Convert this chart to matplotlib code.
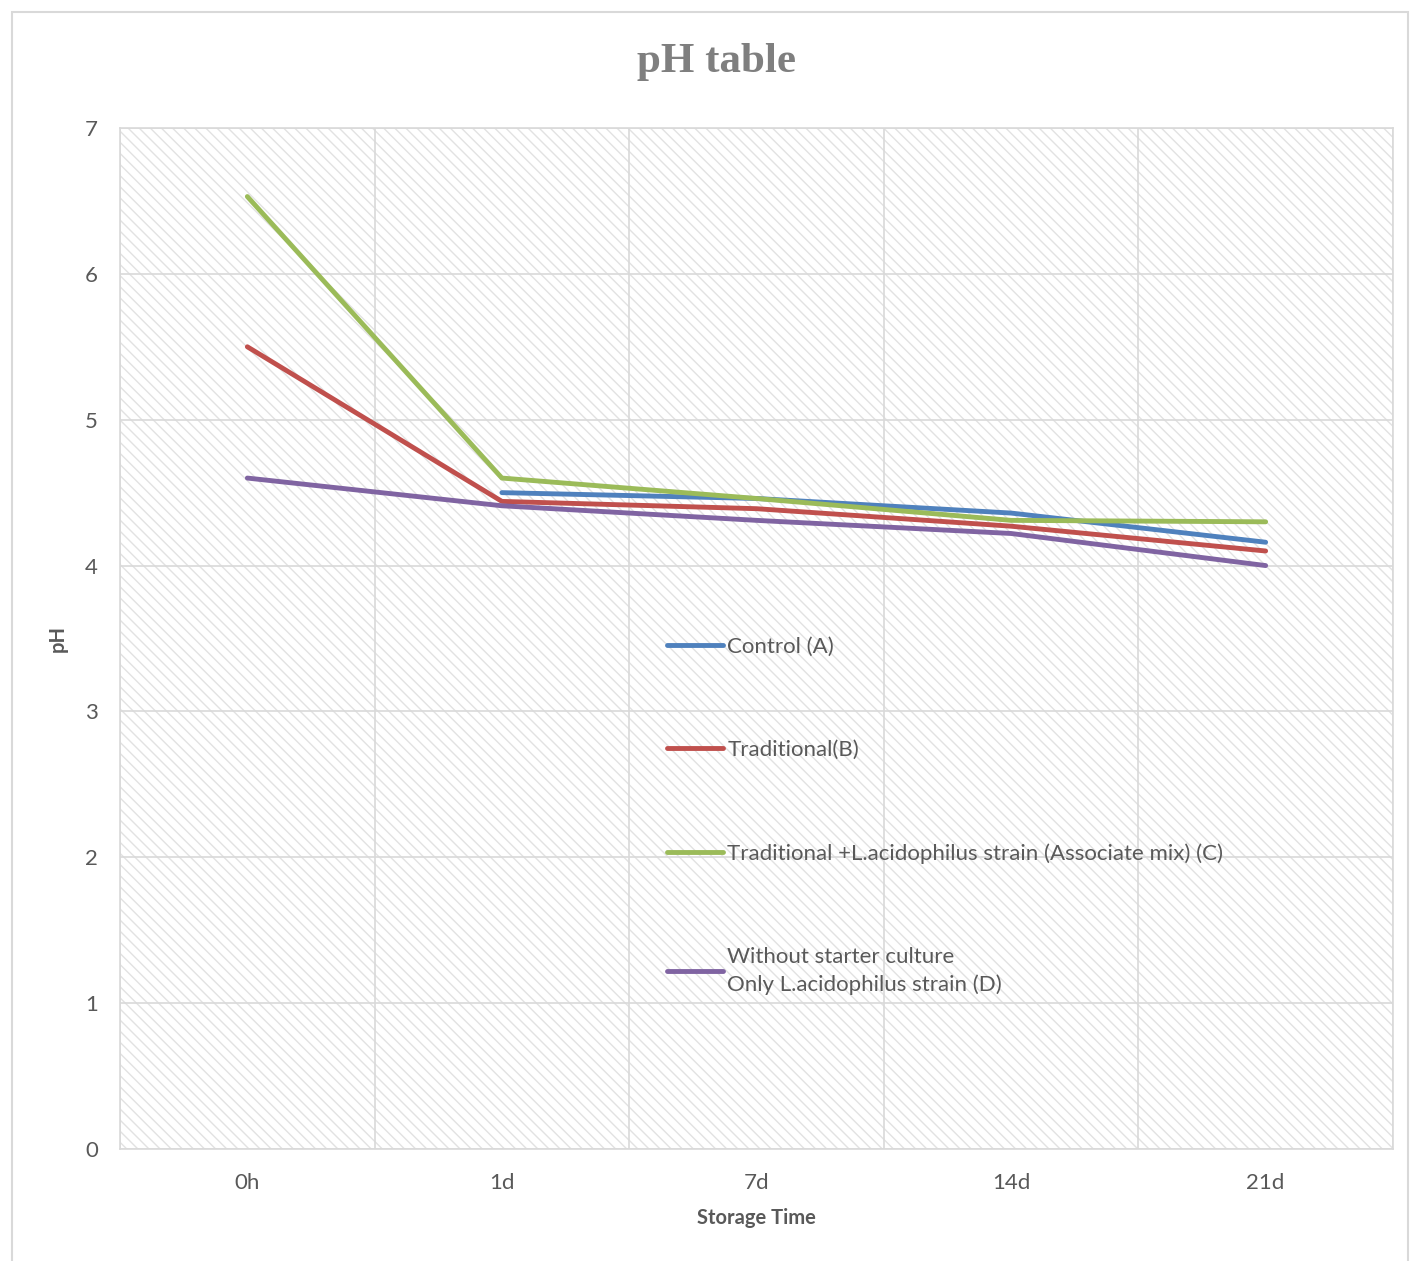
import numpy as np
import matplotlib.pyplot as plt
from matplotlib.patches import Rectangle

# storage time categories and pH readings per sample
times = ['0h', '1d', '7d', '14d', '21d']
control_a = [np.nan, 4.50, 4.46, 4.36, 4.16]
traditional_b = [5.50, 4.44, 4.39, 4.27, 4.10]
associate_c = [6.53, 4.60, 4.46, 4.31, 4.30]
only_acid_d = [4.60, 4.41, 4.31, 4.22, 4.00]

series = [
    (control_a, 'Control (A)', '#4f81bd'),
    (traditional_b, 'Traditional(B)', '#c0504d'),
    (associate_c, 'Traditional +L.acidophilus strain (Associate mix) (C)', '#9bbb59'),
    (only_acid_d, 'Without starter culture\nOnly L.acidophilus strain (D)', '#8064a2'),
]

txt = '#595959'
grid_c = '#d9d9d9'
plt.rcParams['font.family'] = ['Lato', 'DejaVu Sans']

fig = plt.figure(figsize=(14.14, 12.61), dpi=100)
ax = fig.add_axes([0.0849, 0.0888, 0.9002, 0.8097])

# chart area border
fig.patches.append(Rectangle((12 / 1414, -0.01), 1396 / 1414, 1 - 12 / 1261 + 0.01,
                             transform=fig.transFigure, fill=False,
                             edgecolor=grid_c, linewidth=1.5))

# hatched plot area
plt.rcParams['hatch.linewidth'] = 1.0
ax.add_patch(Rectangle((0, 0), 1, 1, transform=ax.transAxes, facecolor='white',
                       edgecolor='#e2e2e2', hatch='\\\\\\', linewidth=0, zorder=0.1))

x = np.arange(len(times))
for vals, lab, col in series:
    ax.plot(x, vals, color=col, linewidth=3.5, label=lab, solid_capstyle='round', zorder=3)

ax.set_xlim(-0.5, len(times) - 0.5)
ax.set_ylim(0, 7)
ax.set_xticks(x)
ax.set_xticklabels(times)
ax.set_xticks(np.arange(-0.5, len(times), 0.5), minor=True)
ax.set_yticks(range(0, 8))
ax.grid(True, which='minor', axis='x', color=grid_c, linewidth=1.2, zorder=1)
ax.grid(True, which='major', axis='y', color=grid_c, linewidth=1.2, zorder=1)
ax.tick_params(which='both', length=0, labelsize=16, colors=txt, pad=17)
ax.tick_params(axis='y', pad=16)
for s in ax.spines.values():
    s.set_color(grid_c)
    s.set_linewidth(1.2)

ax.set_xlabel('Storage Time', fontsize=14.5, fontweight='bold', color=txt, labelpad=11)
ax.set_ylabel('pH', fontsize=14.5, fontweight='bold', color=txt, labelpad=12)
fig.text(0.507, 0.951, 'pH table', ha='center', va='center', fontsize=31,
         fontweight='bold', color='#7f7f7f', family='Liberation Serif')

leg = ax.legend(loc='upper left', bbox_to_anchor=(0.43, 0.502), frameon=False,
                fontsize=16, labelspacing=3.75, handlelength=2.5, handletextpad=0.2,
                borderpad=0, borderaxespad=0)
for t in leg.get_texts():
    t.set_color(txt)
    t.set_linespacing(1.45)

fig.savefig('out.png', dpi=100)
